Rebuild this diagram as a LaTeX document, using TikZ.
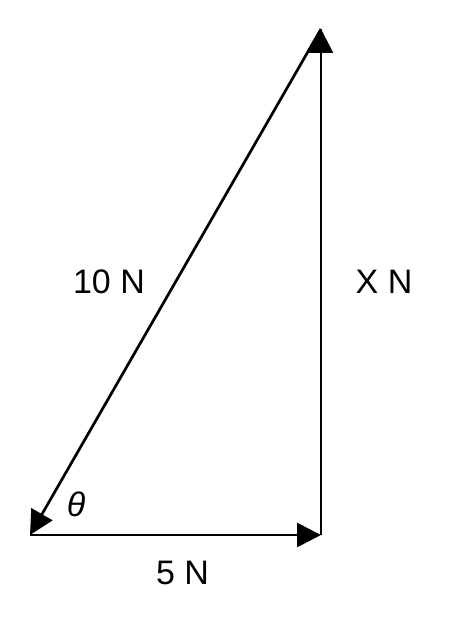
\documentclass[tikz,border=0pt]{standalone}
\usepackage{fontspec}
\setmainfont{Liberation Sans}
\usetikzlibrary{arrows.meta}
\begin{document}
\begin{tikzpicture}[x=1pt,y=1pt,
  vec/.style={line width=2.7pt,-{Triangle[length=24pt,width=24pt]}},
  lbl/.style={font=\fontsize{34}{40}\selectfont,inner sep=0pt}]
\useasboundingbox (0,0) rectangle (454,620);
\coordinate (A) at (30,85);
\coordinate (B) at (321,85);
\coordinate (C) at (321,591);
\draw[vec] (C) -- (A);
\draw[vec] (A) -- (B);
\draw[vec] (B) -- (C);
\node[lbl] (l10) at (109,338) {10 N};
\node[lbl] (lx) at (384,338) {X N};
\node[lbl] (l5) at (182.5,47) {5 N};
\node[lbl] (th) at (76,116) {\itshape θ};
\end{tikzpicture}
\end{document}
